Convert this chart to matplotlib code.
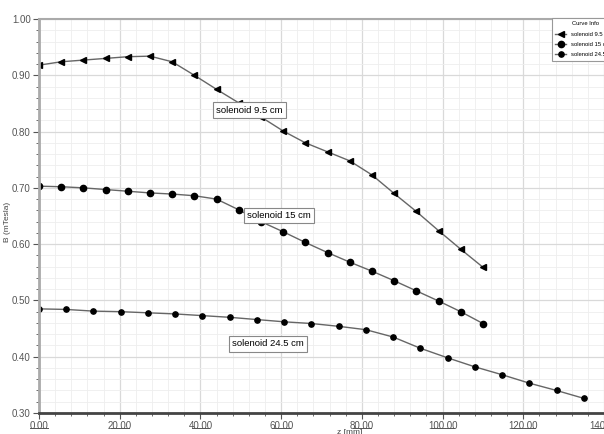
import matplotlib
matplotlib.use("Agg")
import matplotlib.pyplot as plt
from matplotlib.ticker import MultipleLocator, FuncFormatter
from matplotlib.transforms import blended_transform_factory

plt.rcParams['font.family'] = ['Liberation Sans', 'DejaVu Sans']

# z positions (mm) and field values (mTesla)
z_95 = [0, 5.5, 11, 16.5, 22, 27.5, 33, 38.5, 44, 49.5, 55, 60.5, 66, 71.5, 77,
        82.5, 88, 93.5, 99, 104.5, 110]
b_95 = [0.918, 0.924, 0.927, 0.930, 0.933, 0.934, 0.924, 0.900, 0.875, 0.851,
        0.826, 0.801, 0.780, 0.764, 0.748, 0.723, 0.690, 0.658, 0.624, 0.591, 0.559]

z_15 = z_95
b_15 = [0.703, 0.702, 0.700, 0.697, 0.694, 0.691, 0.689, 0.686, 0.680, 0.661,
        0.640, 0.622, 0.603, 0.585, 0.568, 0.552, 0.535, 0.517, 0.499, 0.480, 0.459]

z_245 = [0, 6.75, 13.5, 20.25, 27, 33.75, 40.5, 47.25, 54, 60.75, 67.5, 74.25,
         81, 87.75, 94.5, 101.25, 108, 114.75, 121.5, 128.25, 135]
b_245 = [0.485, 0.484, 0.481, 0.480, 0.478, 0.476, 0.473, 0.470, 0.466, 0.462,
         0.459, 0.454, 0.448, 0.435, 0.415, 0.398, 0.382, 0.368, 0.353, 0.340, 0.326]

labels = ['solenoid 9.5 cm', 'solenoid 15 cm', 'solenoid 24.5 cm']
x_ticks = [0, 20, 40, 60, 80, 100, 120, 140]

fig = plt.figure(figsize=(6.04, 4.34), dpi=100)
ax = fig.add_axes([39 / 604, 1 - 413 / 434, 1 - 39 / 604, (413 - 19) / 434])

line_kw = dict(color='#666666', lw=1.0, mec='black', mfc='black')
h1, = ax.plot(z_95, b_95, marker='<', ms=4.2, label=labels[0], **line_kw)
h2, = ax.plot(z_15, b_15, marker='o', ms=4.5, label=labels[1], **line_kw)
h3, = ax.plot(z_245, b_245, marker='o', ms=3.8, label=labels[2], **line_kw)

ax.set_xlim(0, 140)
ax.set_ylim(0.30, 1.00)
ax.set_xticks(x_ticks)
ax.xaxis.set_minor_locator(MultipleLocator(4))
ax.yaxis.set_major_locator(MultipleLocator(0.1))
ax.yaxis.set_minor_locator(MultipleLocator(0.02))
ax.xaxis.set_major_formatter(FuncFormatter(lambda v, p: '%.2f' % v))
ax.yaxis.set_major_formatter(FuncFormatter(lambda v, p: '%.2f' % v))

ax.grid(which='major', color='#d9d9d9', lw=0.9)
ax.grid(which='minor', color='#eeeeee', lw=0.6)
ax.set_axisbelow(True)

ax.tick_params(which='both', labelsize=7, labelcolor='#555555', color='#555555')
ax.tick_params(axis='x', which='major', length=4, pad=2)
ax.tick_params(axis='x', which='minor', length=2.5)
ax.tick_params(axis='y', which='major', length=4, pad=2)
ax.tick_params(axis='y', which='minor', length=2.5)

# underlined x tick labels
trans = blended_transform_factory(ax.transData, fig.transFigure)
for t in x_ticks:
    half = 2.2 if t < 100 else 2.8
    ax.plot([t - half, t + half], [1 - 428 / 434] * 2, transform=trans,
            color='#555555', lw=0.7, clip_on=False)

ax.spines['right'].set_visible(False)
ax.spines['top'].set_color('#aaaaaa')
ax.spines['top'].set_linewidth(1.5)
ax.spines['left'].set_color('#aaaaaa')
ax.spines['left'].set_linewidth(2)
ax.spines['bottom'].set_color('#444444')
ax.spines['bottom'].set_linewidth(2)

box = dict(boxstyle='square,pad=0.35', fc='white', ec='#888888', lw=0.8)
ax.text(52.2, 0.838, labels[0], fontsize=6.8, ha='center', va='center', bbox=box, zorder=5)
ax.text(59.5, 0.651, labels[1], fontsize=6.8, ha='center', va='center', bbox=box, zorder=5)
ax.text(56.7, 0.423, labels[2], fontsize=6.8, ha='center', va='center', bbox=box, zorder=5)

fig.text(8 / 604, 1 - 222 / 434, 'B (mTesla)', rotation=90, fontsize=6,
         color='#444444', ha='center', va='center')
fig.text(350 / 604, 1 - 432 / 434, 'z [mm]', fontsize=6, color='#444444',
         ha='center', va='center')

leg = ax.legend(handles=[h1, h2, h3], title='Curve Info', fontsize=4.2,
                title_fontsize=4.2, loc='upper left',
                bbox_to_anchor=(549 / 604, 1 - 15 / 434), bbox_transform=fig.transFigure,
                fancybox=False, edgecolor='#999999', framealpha=1,
                handlelength=1.8, borderpad=0.6, labelspacing=0.9)
leg.get_frame().set_linewidth(0.8)

fig.savefig('out.png', dpi=100)
